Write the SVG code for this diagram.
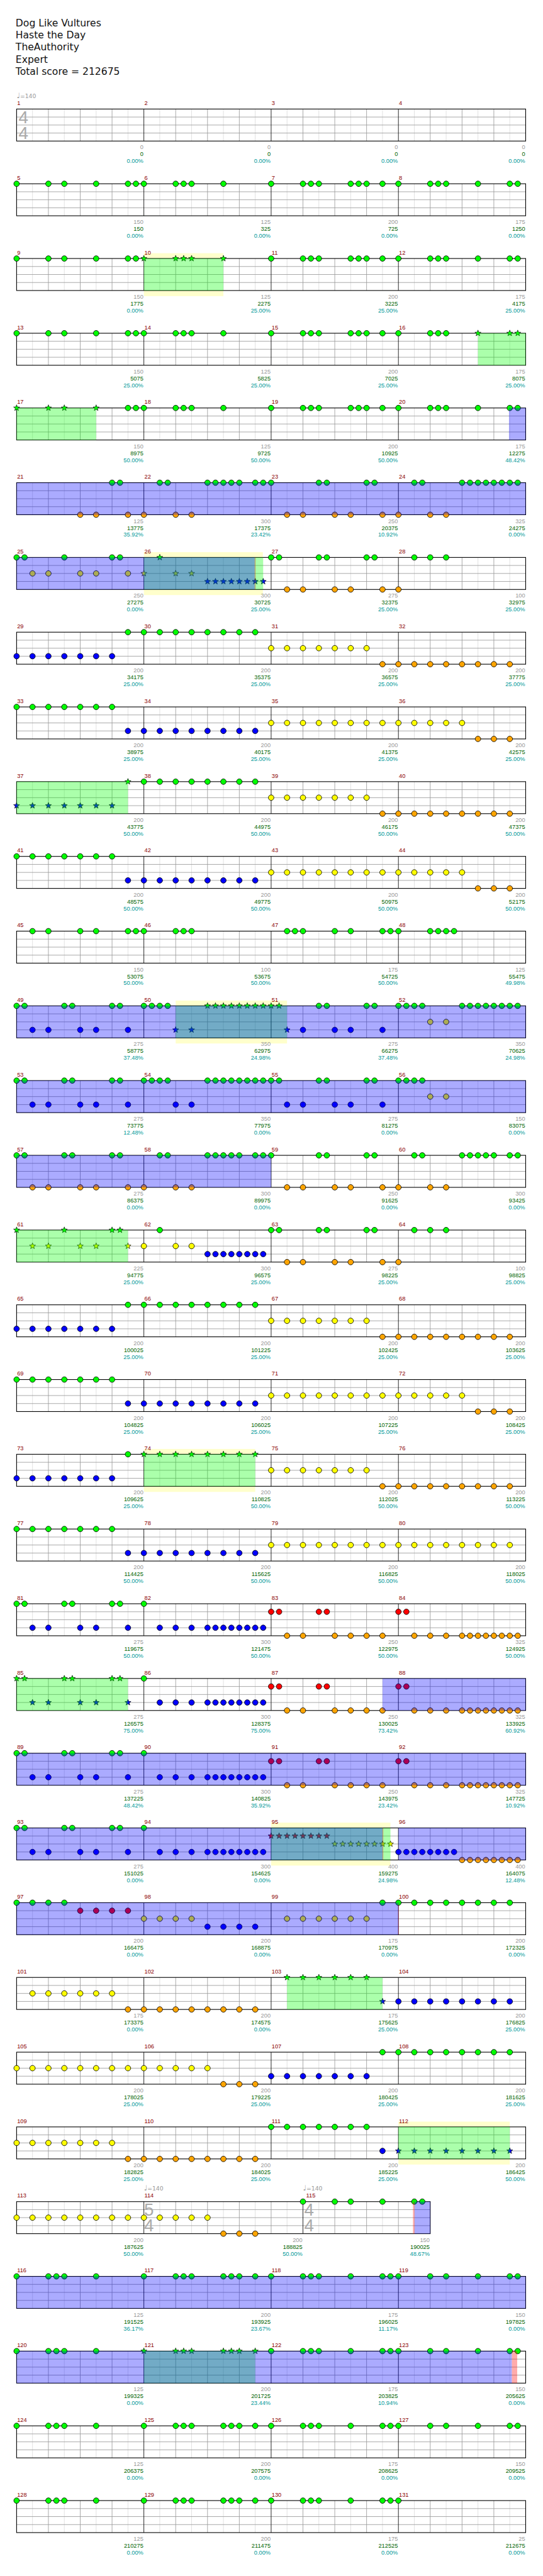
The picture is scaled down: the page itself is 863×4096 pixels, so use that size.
<svg xmlns="http://www.w3.org/2000/svg" width="863" height="4096" viewBox="0 0 863 4096">
<style>
.t{font-family:"DejaVu Sans",sans-serif;font-size:18.5px;fill:#111}
.mn{font-family:"Liberation Sans",Arial,sans-serif;font-size:11px;fill:#8b0000}
.n{font-family:"Liberation Sans",Arial,sans-serif;font-size:11px;text-anchor:end}
.a{fill:#999}.b{fill:#006400}.c{fill:#009999}
.ts{font-family:"Liberation Sans",Arial,sans-serif;font-size:33px;fill:#aaa}
.tp{font-family:"DejaVu Sans",sans-serif;font-size:11px;fill:#999}
.bl{fill:#00f;fill-opacity:.33}.gr{fill:#0f0;fill-opacity:.33}.pk{fill:#f00;fill-opacity:.33}.ye{fill:#ffffcc}
.nt{stroke:#000;stroke-width:1}
</style>
<defs>
<circle id="G" r="5.2" fill="#00ff00" class="nt"/>
<circle id="R" cy="15.1" r="5.2" fill="#ff0000" class="nt"/>
<circle id="Y" cy="30.2" r="5.2" fill="#ffff00" class="nt"/>
<circle id="B" cy="45.3" r="5.2" fill="#0000ff" class="nt"/>
<circle id="O" cy="60.4" r="5.2" fill="#ffa500" class="nt"/>
<polygon id="st" points="0,-6 1.47,-2.02 5.71,-1.85 2.38,0.77 3.53,4.85 0,2.5 -3.53,4.85 -2.38,0.77 -5.71,-1.85 -1.47,-2.02" stroke="#000" stroke-width="0.8"/>
<use id="sG" href="#st" fill="#00ff00"/>
<use id="sR" href="#st" y="15.1" fill="#ff0000"/>
<use id="sY" href="#st" y="30.2" fill="#ffff00"/>
<use id="sB" href="#st" y="45.3" fill="#0000ff"/>
<g id="st4">
<rect width="960" height="60.4" fill="#fff"/>
<path d="M30 0V60.4M90 0V60.4M150 0V60.4M210 0V60.4M270 0V60.4M330 0V60.4M390 0V60.4M450 0V60.4M510 0V60.4M570 0V60.4M630 0V60.4M690 0V60.4M750 0V60.4M810 0V60.4M870 0V60.4M930 0V60.4" stroke="#ddd" fill="none"/>
<path d="M60 0V60.4M120 0V60.4M180 0V60.4M300 0V60.4M360 0V60.4M420 0V60.4M540 0V60.4M600 0V60.4M660 0V60.4M780 0V60.4M840 0V60.4M900 0V60.4M0 15.1H960M0 30.2H960M0 45.3H960" stroke="#999" fill="none"/>
<path d="M240 0V60.4M480 0V60.4M720 0V60.4" stroke="#000" fill="none"/>
<rect width="960" height="60.4" fill="none" stroke="#000" stroke-width="1.3"/>
</g>
<g id="P8">
<use href="#B" x="0"/><use href="#B" x="30"/><use href="#B" x="60"/><use href="#B" x="90"/><use href="#B" x="120"/><use href="#B" x="150"/><use href="#B" x="180"/>
<use href="#G" x="210"/><use href="#G" x="240"/><use href="#G" x="270"/><use href="#G" x="300"/><use href="#G" x="330"/><use href="#G" x="360"/><use href="#G" x="390"/><use href="#G" x="420"/><use href="#G" x="450"/>
<use href="#Y" x="480"/><use href="#Y" x="510"/><use href="#Y" x="540"/><use href="#Y" x="570"/><use href="#Y" x="600"/><use href="#Y" x="630"/><use href="#Y" x="660"/>
<use href="#O" x="690"/><use href="#O" x="720"/><use href="#O" x="750"/><use href="#O" x="780"/><use href="#O" x="810"/><use href="#O" x="840"/><use href="#O" x="870"/><use href="#O" x="900"/><use href="#O" x="930"/>
</g>
<g id="P9">
<use href="#G" x="0"/><use href="#G" x="30"/><use href="#G" x="60"/><use href="#G" x="90"/><use href="#G" x="120"/><use href="#G" x="150"/><use href="#G" x="180"/>
<use href="#B" x="210"/><use href="#B" x="240"/><use href="#B" x="270"/><use href="#B" x="300"/><use href="#B" x="330"/><use href="#B" x="360"/><use href="#B" x="390"/><use href="#B" x="420"/><use href="#B" x="450"/>
<use href="#Y" x="480"/><use href="#Y" x="510"/><use href="#Y" x="540"/><use href="#Y" x="570"/><use href="#Y" x="600"/><use href="#Y" x="630"/><use href="#Y" x="660"/><use href="#Y" x="690"/><use href="#Y" x="720"/><use href="#Y" x="750"/><use href="#Y" x="780"/><use href="#Y" x="810"/><use href="#Y" x="840"/>
<use href="#O" x="870"/><use href="#O" x="900"/><use href="#O" x="930"/>
</g>
<g id="P21b">
<use href="#R" x="480"/><use href="#R" x="495"/><use href="#R" x="570"/><use href="#R" x="585"/><use href="#R" x="720"/><use href="#R" x="735"/>
<use href="#O" x="510"/><use href="#O" x="540"/><use href="#O" x="600"/><use href="#O" x="630"/><use href="#O" x="660"/><use href="#O" x="690"/><use href="#O" x="750"/><use href="#O" x="780"/><use href="#O" x="810"/><use href="#O" x="840"/><use href="#O" x="855"/><use href="#O" x="870"/><use href="#O" x="885"/><use href="#O" x="900"/><use href="#O" x="915"/><use href="#O" x="930"/><use href="#O" x="945"/>
</g>
<g id="P21a">
<use href="#G" x="0"/><use href="#G" x="15"/><use href="#G" x="90"/><use href="#G" x="105"/><use href="#G" x="180"/><use href="#G" x="195"/><use href="#G" x="240"/>
<use href="#B" x="30"/><use href="#B" x="60"/><use href="#B" x="120"/><use href="#B" x="150"/><use href="#B" x="210"/><use href="#B" x="270"/><use href="#B" x="300"/><use href="#B" x="330"/><use href="#B" x="360"/><use href="#B" x="375"/><use href="#B" x="390"/><use href="#B" x="405"/><use href="#B" x="420"/><use href="#B" x="435"/><use href="#B" x="450"/><use href="#B" x="465"/>
</g>
<g id="P30a">
<use href="#G" x="0"/><use href="#G" x="60"/><use href="#G" x="75"/><use href="#G" x="90"/><use href="#G" x="150"/>
</g>
<g id="P30c">
<use href="#G" x="480"/><use href="#G" x="540"/><use href="#G" x="555"/><use href="#G" x="570"/><use href="#G" x="630"/><use href="#G" x="690"/><use href="#G" x="705"/><use href="#G" x="720"/>
</g>
<g id="P30d">
<use href="#G" x="780"/><use href="#G" x="810"/><use href="#G" x="870"/><use href="#G" x="930"/><use href="#G" x="945"/>
</g>
<g id="P30b">
<use href="#G" x="240"/><use href="#G" x="300"/><use href="#G" x="315"/><use href="#G" x="330"/><use href="#G" x="390"/><use href="#G" x="405"/><use href="#G" x="420"/><use href="#G" x="450"/>
</g>
<g id="M68">
<use href="#G" x="480"/><use href="#G" x="540"/><use href="#G" x="555"/><use href="#G" x="570"/><use href="#G" x="630"/><use href="#G" x="645"/><use href="#G" x="660"/><use href="#G" x="690"/><use href="#G" x="720"/><use href="#G" x="780"/><use href="#G" x="795"/><use href="#G" x="810"/>
</g>
</defs>
<rect width="863" height="4096" fill="#fff"/>
<g transform="scale(0.8428)">
<g id="header">
<text class="t" x="29.5" y="49.5">Dog Like Vultures</text>
<text class="t" x="29.5" y="72.5">Haste the Day</text>
<text class="t" x="29.5" y="95.5">TheAuthority</text>
<text class="t" x="29.5" y="118.5">Expert</text>
<text class="t" x="29.5" y="141">Total score = 212675</text>
</g>

<g id="row1" transform="translate(31.3 205.7)">
<use href="#st4"/>
<text class="ts" x="3.8" y="26.6">4</text><text class="ts" x="3.8" y="56.6">4</text>
<text class="tp" x="0" y="-20.5"><tspan font-size="14">♩</tspan>=140</text>
<text class="mn" y="-7.5"><tspan x="1">1</tspan><tspan x="241">2</tspan><tspan x="481">3</tspan><tspan x="721">4</tspan></text>
<text class="n a" y="76"><tspan x="239">0</tspan><tspan x="479">0</tspan><tspan x="719">0</tspan><tspan x="959">0</tspan></text>
<text class="n b" y="89"><tspan x="239">0</tspan><tspan x="479">0</tspan><tspan x="719">0</tspan><tspan x="959">0</tspan></text>
<text class="n c" y="102"><tspan x="239">0.00%</tspan><tspan x="479">0.00%</tspan><tspan x="719">0.00%</tspan><tspan x="959">0.00%</tspan></text>
</g>

<g id="row2" transform="translate(31.3 346.7)">
<use href="#st4"/>
<use href="#G" x="0"/><use href="#G" x="60"/><use href="#G" x="90"/><use href="#G" x="150"/><use href="#G" x="210"/><use href="#G" x="225"/><use href="#G" x="240"/><use href="#G" x="300"/><use href="#G" x="315"/><use href="#G" x="330"/><use href="#G" x="390"/>
<use href="#M68"/><use href="#G" x="870"/><use href="#G" x="930"/><use href="#G" x="945"/>
<text class="mn" y="-7.5"><tspan x="1">5</tspan><tspan x="241">6</tspan><tspan x="481">7</tspan><tspan x="721">8</tspan></text>
<text class="n a" y="76"><tspan x="239">150</tspan><tspan x="479">125</tspan><tspan x="719">200</tspan><tspan x="959">175</tspan></text>
<text class="n b" y="89"><tspan x="239">150</tspan><tspan x="479">325</tspan><tspan x="719">725</tspan><tspan x="959">1250</tspan></text>
<text class="n c" y="102"><tspan x="239">0.00%</tspan><tspan x="479">0.00%</tspan><tspan x="719">0.00%</tspan><tspan x="959">0.00%</tspan></text>
</g>

<g id="row3" transform="translate(31.3 487.7)">
<rect class="ye" x="240" y="-10" width="150" height="81"/>
<use href="#st4"/>
<use href="#G" x="0"/><use href="#G" x="60"/><use href="#G" x="90"/><use href="#G" x="150"/><use href="#G" x="210"/><use href="#G" x="225"/>
<use href="#sG" x="240"/><use href="#sG" x="300"/><use href="#sG" x="315"/><use href="#sG" x="330"/><use href="#sG" x="390"/>
<use href="#M68"/><use href="#G" x="870"/><use href="#G" x="930"/><use href="#G" x="945"/>
<rect class="gr" x="240" width="150" height="60.4"/>
<text class="mn" y="-7.5"><tspan x="1">9</tspan><tspan x="241">10</tspan><tspan x="481">11</tspan><tspan x="721">12</tspan></text>
<text class="n a" y="76"><tspan x="239">150</tspan><tspan x="479">125</tspan><tspan x="719">200</tspan><tspan x="959">175</tspan></text>
<text class="n b" y="89"><tspan x="239">1775</tspan><tspan x="479">2275</tspan><tspan x="719">3225</tspan><tspan x="959">4175</tspan></text>
<text class="n c" y="102"><tspan x="239">0.00%</tspan><tspan x="479">25.00%</tspan><tspan x="719">25.00%</tspan><tspan x="959">25.00%</tspan></text>
</g>

<g id="row4" transform="translate(31.3 628.7)">
<use href="#st4"/>
<use href="#G" x="0"/><use href="#G" x="60"/><use href="#G" x="90"/><use href="#G" x="150"/><use href="#G" x="210"/><use href="#G" x="225"/><use href="#G" x="240"/><use href="#G" x="300"/><use href="#G" x="315"/><use href="#G" x="330"/><use href="#G" x="390"/>
<use href="#M68"/><use href="#sG" x="870"/><use href="#sG" x="930"/><use href="#sG" x="945"/>
<rect class="gr" x="870" width="90" height="60.4"/>
<text class="mn" y="-7.5"><tspan x="1">13</tspan><tspan x="241">14</tspan><tspan x="481">15</tspan><tspan x="721">16</tspan></text>
<text class="n a" y="76"><tspan x="239">150</tspan><tspan x="479">125</tspan><tspan x="719">200</tspan><tspan x="959">175</tspan></text>
<text class="n b" y="89"><tspan x="239">5075</tspan><tspan x="479">5825</tspan><tspan x="719">7025</tspan><tspan x="959">8075</tspan></text>
<text class="n c" y="102"><tspan x="239">25.00%</tspan><tspan x="479">25.00%</tspan><tspan x="719">25.00%</tspan><tspan x="959">25.00%</tspan></text>
</g>

<g id="row5" transform="translate(31.3 769.7)">
<use href="#st4"/>
<use href="#sG" x="0"/><use href="#sG" x="60"/><use href="#sG" x="90"/><use href="#sG" x="150"/>
<use href="#G" x="210"/><use href="#G" x="225"/><use href="#G" x="240"/><use href="#G" x="300"/><use href="#G" x="315"/><use href="#G" x="330"/><use href="#G" x="390"/>
<use href="#M68"/><use href="#G" x="870"/><use href="#G" x="930"/><use href="#G" x="945"/>
<rect class="gr" x="0" width="150" height="60.4"/>
<rect class="bl" x="928.5" width="31.5" height="60.4"/>
<text class="mn" y="-7.5"><tspan x="1">17</tspan><tspan x="241">18</tspan><tspan x="481">19</tspan><tspan x="721">20</tspan></text>
<text class="n a" y="76"><tspan x="239">150</tspan><tspan x="479">125</tspan><tspan x="719">200</tspan><tspan x="959">175</tspan></text>
<text class="n b" y="89"><tspan x="239">8975</tspan><tspan x="479">9725</tspan><tspan x="719">10925</tspan><tspan x="959">12275</tspan></text>
<text class="n c" y="102"><tspan x="239">50.00%</tspan><tspan x="479">50.00%</tspan><tspan x="719">50.00%</tspan><tspan x="959">48.42%</tspan></text>
</g>

<g id="row6" transform="translate(31.3 910.7)">
<use href="#st4"/>
<use href="#G" x="180"/><use href="#G" x="195"/><use href="#G" x="270"/><use href="#G" x="285"/><use href="#G" x="360"/><use href="#G" x="375"/><use href="#G" x="390"/><use href="#G" x="405"/><use href="#G" x="420"/><use href="#G" x="450"/><use href="#G" x="465"/><use href="#G" x="480"/><use href="#G" x="570"/><use href="#G" x="585"/><use href="#G" x="660"/><use href="#G" x="675"/><use href="#G" x="750"/><use href="#G" x="765"/><use href="#G" x="840"/><use href="#G" x="855"/><use href="#G" x="870"/><use href="#G" x="885"/><use href="#G" x="900"/><use href="#G" x="915"/><use href="#G" x="930"/><use href="#G" x="945"/>
<use href="#O" x="120"/><use href="#O" x="150"/><use href="#O" x="210"/><use href="#O" x="240"/><use href="#O" x="300"/><use href="#O" x="330"/><use href="#O" x="510"/><use href="#O" x="540"/><use href="#O" x="600"/><use href="#O" x="630"/><use href="#O" x="690"/><use href="#O" x="720"/><use href="#O" x="780"/><use href="#O" x="810"/>
<rect class="bl" width="960" height="60.4"/>
<text class="mn" y="-7.5"><tspan x="1">21</tspan><tspan x="241">22</tspan><tspan x="481">23</tspan><tspan x="721">24</tspan></text>
<text class="n a" y="76"><tspan x="239">125</tspan><tspan x="479">300</tspan><tspan x="719">250</tspan><tspan x="959">325</tspan></text>
<text class="n b" y="89"><tspan x="239">13775</tspan><tspan x="479">17375</tspan><tspan x="719">20375</tspan><tspan x="959">24275</tspan></text>
<text class="n c" y="102"><tspan x="239">35.92%</tspan><tspan x="479">23.42%</tspan><tspan x="719">10.92%</tspan><tspan x="959">0.00%</tspan></text>
</g>

<g id="row7" transform="translate(31.3 1051.7)">
<rect class="ye" x="240" y="-10" width="224.4" height="81"/>
<use href="#st4"/>
<use href="#G" x="0"/><use href="#G" x="15"/><use href="#G" x="90"/><use href="#G" x="180"/><use href="#G" x="195"/>
<use href="#Y" x="30"/><use href="#Y" x="60"/><use href="#Y" x="120"/><use href="#Y" x="150"/><use href="#Y" x="210"/>
<use href="#sY" x="240"/><use href="#sG" x="270"/><use href="#sY" x="300"/><use href="#sY" x="330"/>
<use href="#sB" x="360"/><use href="#sB" x="375"/><use href="#sB" x="390"/><use href="#sB" x="405"/><use href="#sB" x="420"/><use href="#sB" x="435"/><use href="#sB" x="450"/><use href="#sB" x="465"/>
<use href="#G" x="480"/><use href="#G" x="495"/><use href="#G" x="570"/><use href="#G" x="585"/><use href="#G" x="660"/><use href="#G" x="675"/><use href="#G" x="750"/><use href="#G" x="780"/><use href="#G" x="810"/>
<use href="#O" x="510"/><use href="#O" x="540"/><use href="#O" x="600"/><use href="#O" x="630"/><use href="#O" x="690"/><use href="#O" x="720"/>
<rect class="gr" x="240" width="225" height="60.4"/>
<rect class="bl" width="449" height="60.4"/>
<rect class="pk" x="449" width="1.5" height="60.4"/>
<text class="mn" y="-7.5"><tspan x="1">25</tspan><tspan x="241">26</tspan><tspan x="481">27</tspan><tspan x="721">28</tspan></text>
<text class="n a" y="76"><tspan x="239">250</tspan><tspan x="479">300</tspan><tspan x="719">275</tspan><tspan x="959">100</tspan></text>
<text class="n b" y="89"><tspan x="239">27275</tspan><tspan x="479">30725</tspan><tspan x="719">32375</tspan><tspan x="959">32975</tspan></text>
<text class="n c" y="102"><tspan x="239">0.00%</tspan><tspan x="479">25.00%</tspan><tspan x="719">25.00%</tspan><tspan x="959">25.00%</tspan></text>
</g>

<g id="row8" transform="translate(31.3 1192.7)">
<use href="#st4"/><use href="#P8"/>
<text class="mn" y="-7.5"><tspan x="1">29</tspan><tspan x="241">30</tspan><tspan x="481">31</tspan><tspan x="721">32</tspan></text>
<text class="n a" y="76"><tspan x="239">200</tspan><tspan x="479">200</tspan><tspan x="719">200</tspan><tspan x="959">200</tspan></text>
<text class="n b" y="89"><tspan x="239">34175</tspan><tspan x="479">35375</tspan><tspan x="719">36575</tspan><tspan x="959">37775</tspan></text>
<text class="n c" y="102"><tspan x="239">25.00%</tspan><tspan x="479">25.00%</tspan><tspan x="719">25.00%</tspan><tspan x="959">25.00%</tspan></text>
</g>

<g id="row9" transform="translate(31.3 1333.7)">
<use href="#st4"/><use href="#P9"/>
<text class="mn" y="-7.5"><tspan x="1">33</tspan><tspan x="241">34</tspan><tspan x="481">35</tspan><tspan x="721">36</tspan></text>
<text class="n a" y="76"><tspan x="239">200</tspan><tspan x="479">200</tspan><tspan x="719">200</tspan><tspan x="959">200</tspan></text>
<text class="n b" y="89"><tspan x="239">38975</tspan><tspan x="479">40175</tspan><tspan x="719">41375</tspan><tspan x="959">42575</tspan></text>
<text class="n c" y="102"><tspan x="239">25.00%</tspan><tspan x="479">25.00%</tspan><tspan x="719">25.00%</tspan><tspan x="959">25.00%</tspan></text>
</g>

<g id="row10" transform="translate(31.3 1474.7)">
<use href="#st4"/>
<use href="#sB" x="0"/><use href="#sB" x="30"/><use href="#sB" x="60"/><use href="#sB" x="90"/><use href="#sB" x="120"/><use href="#sB" x="150"/><use href="#sB" x="180"/><use href="#sG" x="210"/>
<use href="#G" x="240"/><use href="#G" x="270"/><use href="#G" x="300"/><use href="#G" x="330"/><use href="#G" x="360"/><use href="#G" x="390"/><use href="#G" x="420"/><use href="#G" x="450"/>
<use href="#Y" x="480"/><use href="#Y" x="510"/><use href="#Y" x="540"/><use href="#Y" x="570"/><use href="#Y" x="600"/><use href="#Y" x="630"/><use href="#Y" x="660"/>
<use href="#O" x="690"/><use href="#O" x="720"/><use href="#O" x="750"/><use href="#O" x="780"/><use href="#O" x="810"/><use href="#O" x="840"/><use href="#O" x="870"/><use href="#O" x="900"/><use href="#O" x="930"/>
<rect class="gr" width="210" height="60.4"/>
<text class="mn" y="-7.5"><tspan x="1">37</tspan><tspan x="241">38</tspan><tspan x="481">39</tspan><tspan x="721">40</tspan></text>
<text class="n a" y="76"><tspan x="239">200</tspan><tspan x="479">200</tspan><tspan x="719">200</tspan><tspan x="959">200</tspan></text>
<text class="n b" y="89"><tspan x="239">43775</tspan><tspan x="479">44975</tspan><tspan x="719">46175</tspan><tspan x="959">47375</tspan></text>
<text class="n c" y="102"><tspan x="239">50.00%</tspan><tspan x="479">50.00%</tspan><tspan x="719">50.00%</tspan><tspan x="959">50.00%</tspan></text>
</g>

<g id="row11" transform="translate(31.3 1615.7)">
<use href="#st4"/><use href="#P9"/>
<text class="mn" y="-7.5"><tspan x="1">41</tspan><tspan x="241">42</tspan><tspan x="481">43</tspan><tspan x="721">44</tspan></text>
<text class="n a" y="76"><tspan x="239">200</tspan><tspan x="479">200</tspan><tspan x="719">200</tspan><tspan x="959">200</tspan></text>
<text class="n b" y="89"><tspan x="239">48575</tspan><tspan x="479">49775</tspan><tspan x="719">50975</tspan><tspan x="959">52175</tspan></text>
<text class="n c" y="102"><tspan x="239">50.00%</tspan><tspan x="479">50.00%</tspan><tspan x="719">50.00%</tspan><tspan x="959">50.00%</tspan></text>
</g>

<g id="row12" transform="translate(31.3 1756.7)">
<use href="#st4"/>
<use href="#G" x="30"/><use href="#G" x="60"/><use href="#G" x="120"/><use href="#G" x="150"/><use href="#G" x="210"/><use href="#G" x="225"/><use href="#G" x="240"/><use href="#G" x="300"/><use href="#G" x="315"/><use href="#G" x="330"/><use href="#G" x="510"/><use href="#G" x="525"/><use href="#G" x="540"/><use href="#G" x="600"/><use href="#G" x="630"/><use href="#G" x="690"/><use href="#G" x="705"/><use href="#G" x="720"/><use href="#G" x="780"/><use href="#G" x="795"/><use href="#G" x="810"/><use href="#G" x="825"/>
<text class="mn" y="-7.5"><tspan x="1">45</tspan><tspan x="241">46</tspan><tspan x="481">47</tspan><tspan x="721">48</tspan></text>
<text class="n a" y="76"><tspan x="239">150</tspan><tspan x="479">100</tspan><tspan x="719">175</tspan><tspan x="959">125</tspan></text>
<text class="n b" y="89"><tspan x="239">53075</tspan><tspan x="479">53675</tspan><tspan x="719">54725</tspan><tspan x="959">55475</tspan></text>
<text class="n c" y="102"><tspan x="239">50.00%</tspan><tspan x="479">50.00%</tspan><tspan x="719">50.00%</tspan><tspan x="959">49.98%</tspan></text>
</g>

<g id="row13" transform="translate(31.3 1897.7)">
<rect class="ye" x="300" y="-10" width="210" height="81"/>
<use href="#st4"/>
<use href="#G" x="0"/><use href="#G" x="15"/><use href="#G" x="90"/><use href="#G" x="105"/><use href="#G" x="180"/><use href="#G" x="195"/><use href="#G" x="240"/><use href="#G" x="255"/><use href="#G" x="270"/><use href="#G" x="285"/>
<use href="#sG" x="360"/><use href="#sG" x="375"/><use href="#sG" x="390"/><use href="#sG" x="405"/><use href="#sG" x="420"/><use href="#sG" x="435"/><use href="#sG" x="450"/><use href="#sG" x="465"/><use href="#sG" x="480"/><use href="#sG" x="495"/>
<use href="#G" x="570"/><use href="#G" x="585"/><use href="#G" x="660"/><use href="#G" x="675"/><use href="#G" x="720"/><use href="#G" x="735"/><use href="#G" x="750"/><use href="#G" x="765"/><use href="#G" x="840"/><use href="#G" x="855"/><use href="#G" x="870"/><use href="#G" x="885"/><use href="#G" x="900"/><use href="#G" x="915"/><use href="#G" x="930"/><use href="#G" x="945"/>
<use href="#B" x="30"/><use href="#B" x="60"/><use href="#B" x="120"/><use href="#B" x="150"/><use href="#B" x="210"/><use href="#sB" x="300"/><use href="#sB" x="330"/><use href="#sB" x="510"/><use href="#B" x="540"/><use href="#B" x="600"/><use href="#B" x="630"/><use href="#B" x="690"/>
<use href="#Y" x="780"/><use href="#Y" x="810"/>
<rect class="gr" x="300" width="210" height="60.4"/>
<rect class="bl" width="960" height="60.4"/>
<text class="mn" y="-7.5"><tspan x="1">49</tspan><tspan x="241">50</tspan><tspan x="481">51</tspan><tspan x="721">52</tspan></text>
<text class="n a" y="76"><tspan x="239">275</tspan><tspan x="479">350</tspan><tspan x="719">275</tspan><tspan x="959">350</tspan></text>
<text class="n b" y="89"><tspan x="239">58775</tspan><tspan x="479">62975</tspan><tspan x="719">66275</tspan><tspan x="959">70625</tspan></text>
<text class="n c" y="102"><tspan x="239">37.48%</tspan><tspan x="479">24.98%</tspan><tspan x="719">37.48%</tspan><tspan x="959">24.98%</tspan></text>
</g>

<g id="row14" transform="translate(31.3 2038.7)">
<use href="#st4"/>
<use href="#G" x="0"/><use href="#G" x="15"/><use href="#G" x="90"/><use href="#G" x="105"/><use href="#G" x="180"/><use href="#G" x="195"/><use href="#G" x="240"/><use href="#G" x="255"/><use href="#G" x="270"/><use href="#G" x="285"/><use href="#G" x="360"/><use href="#G" x="375"/><use href="#G" x="390"/><use href="#G" x="405"/><use href="#G" x="420"/><use href="#G" x="435"/><use href="#G" x="450"/><use href="#G" x="465"/><use href="#G" x="480"/><use href="#G" x="495"/><use href="#G" x="570"/><use href="#G" x="585"/><use href="#G" x="660"/><use href="#G" x="675"/><use href="#G" x="720"/><use href="#G" x="735"/><use href="#G" x="750"/><use href="#G" x="765"/>
<use href="#B" x="30"/><use href="#B" x="60"/><use href="#B" x="120"/><use href="#B" x="150"/><use href="#B" x="210"/><use href="#B" x="300"/><use href="#B" x="330"/><use href="#B" x="510"/><use href="#B" x="540"/><use href="#B" x="600"/><use href="#B" x="630"/><use href="#B" x="690"/>
<use href="#Y" x="780"/><use href="#Y" x="810"/>
<rect class="bl" width="960" height="60.4"/>
<text class="mn" y="-7.5"><tspan x="1">53</tspan><tspan x="241">54</tspan><tspan x="481">55</tspan><tspan x="721">56</tspan></text>
<text class="n a" y="76"><tspan x="239">275</tspan><tspan x="479">350</tspan><tspan x="719">275</tspan><tspan x="959">150</tspan></text>
<text class="n b" y="89"><tspan x="239">73775</tspan><tspan x="479">77975</tspan><tspan x="719">81275</tspan><tspan x="959">83075</tspan></text>
<text class="n c" y="102"><tspan x="239">12.48%</tspan><tspan x="479">0.00%</tspan><tspan x="719">0.00%</tspan><tspan x="959">0.00%</tspan></text>
</g>

<g id="row15" transform="translate(31.3 2179.7)">
<use href="#st4"/>
<use href="#G" x="0"/><use href="#G" x="15"/><use href="#G" x="90"/><use href="#G" x="105"/><use href="#G" x="180"/><use href="#G" x="195"/><use href="#G" x="270"/><use href="#G" x="285"/><use href="#G" x="360"/><use href="#G" x="375"/><use href="#G" x="390"/><use href="#G" x="405"/><use href="#G" x="420"/><use href="#G" x="450"/><use href="#G" x="465"/><use href="#G" x="480"/><use href="#G" x="570"/><use href="#G" x="585"/><use href="#G" x="660"/><use href="#G" x="675"/><use href="#G" x="750"/><use href="#G" x="765"/><use href="#G" x="840"/><use href="#G" x="855"/><use href="#G" x="870"/><use href="#G" x="885"/><use href="#G" x="900"/><use href="#G" x="930"/><use href="#G" x="945"/>
<use href="#O" x="30"/><use href="#O" x="60"/><use href="#O" x="120"/><use href="#O" x="150"/><use href="#O" x="210"/><use href="#O" x="240"/><use href="#O" x="300"/><use href="#O" x="330"/><use href="#O" x="510"/><use href="#O" x="540"/><use href="#O" x="600"/><use href="#O" x="630"/><use href="#O" x="690"/><use href="#O" x="720"/><use href="#O" x="780"/><use href="#O" x="810"/>
<rect class="bl" width="480" height="60.4"/>
<text class="mn" y="-7.5"><tspan x="1">57</tspan><tspan x="241">58</tspan><tspan x="481">59</tspan><tspan x="721">60</tspan></text>
<text class="n a" y="76"><tspan x="239">275</tspan><tspan x="479">300</tspan><tspan x="719">250</tspan><tspan x="959">300</tspan></text>
<text class="n b" y="89"><tspan x="239">86375</tspan><tspan x="479">89975</tspan><tspan x="719">91625</tspan><tspan x="959">93425</tspan></text>
<text class="n c" y="102"><tspan x="239">0.00%</tspan><tspan x="479">0.00%</tspan><tspan x="719">0.00%</tspan><tspan x="959">0.00%</tspan></text>
</g>

<g id="row16" transform="translate(31.3 2320.7)">
<use href="#st4"/>
<use href="#sG" x="0"/><use href="#sG" x="90"/><use href="#sG" x="180"/><use href="#sG" x="195"/>
<use href="#sY" x="30"/><use href="#sY" x="60"/><use href="#sY" x="120"/><use href="#sY" x="150"/><use href="#sY" x="210"/>
<use href="#G" x="270"/><use href="#Y" x="240"/><use href="#Y" x="300"/><use href="#Y" x="330"/>
<use href="#B" x="360"/><use href="#B" x="375"/><use href="#B" x="390"/><use href="#B" x="405"/><use href="#B" x="420"/><use href="#B" x="435"/><use href="#B" x="450"/><use href="#B" x="465"/>
<use href="#G" x="480"/><use href="#G" x="495"/><use href="#G" x="570"/><use href="#G" x="585"/><use href="#G" x="660"/><use href="#G" x="675"/><use href="#G" x="750"/><use href="#G" x="780"/><use href="#G" x="810"/>
<use href="#O" x="510"/><use href="#O" x="540"/><use href="#O" x="600"/><use href="#O" x="630"/><use href="#O" x="690"/><use href="#O" x="720"/>
<rect class="gr" width="210" height="60.4"/>
<text class="mn" y="-7.5"><tspan x="1">61</tspan><tspan x="241">62</tspan><tspan x="481">63</tspan><tspan x="721">64</tspan></text>
<text class="n a" y="76"><tspan x="239">225</tspan><tspan x="479">300</tspan><tspan x="719">275</tspan><tspan x="959">100</tspan></text>
<text class="n b" y="89"><tspan x="239">94775</tspan><tspan x="479">96575</tspan><tspan x="719">98225</tspan><tspan x="959">98825</tspan></text>
<text class="n c" y="102"><tspan x="239">25.00%</tspan><tspan x="479">25.00%</tspan><tspan x="719">25.00%</tspan><tspan x="959">25.00%</tspan></text>
</g>

<g id="row17" transform="translate(31.3 2461.7)">
<use href="#st4"/><use href="#P8"/>
<text class="mn" y="-7.5"><tspan x="1">65</tspan><tspan x="241">66</tspan><tspan x="481">67</tspan><tspan x="721">68</tspan></text>
<text class="n a" y="76"><tspan x="239">200</tspan><tspan x="479">200</tspan><tspan x="719">200</tspan><tspan x="959">200</tspan></text>
<text class="n b" y="89"><tspan x="239">100025</tspan><tspan x="479">101225</tspan><tspan x="719">102425</tspan><tspan x="959">103625</tspan></text>
<text class="n c" y="102"><tspan x="239">25.00%</tspan><tspan x="479">25.00%</tspan><tspan x="719">25.00%</tspan><tspan x="959">25.00%</tspan></text>
</g>

<g id="row18" transform="translate(31.3 2602.7)">
<use href="#st4"/><use href="#P9"/>
<text class="mn" y="-7.5"><tspan x="1">69</tspan><tspan x="241">70</tspan><tspan x="481">71</tspan><tspan x="721">72</tspan></text>
<text class="n a" y="76"><tspan x="239">200</tspan><tspan x="479">200</tspan><tspan x="719">200</tspan><tspan x="959">200</tspan></text>
<text class="n b" y="89"><tspan x="239">104825</tspan><tspan x="479">106025</tspan><tspan x="719">107225</tspan><tspan x="959">108425</tspan></text>
<text class="n c" y="102"><tspan x="239">25.00%</tspan><tspan x="479">25.00%</tspan><tspan x="719">25.00%</tspan><tspan x="959">25.00%</tspan></text>
</g>

<g id="row19" transform="translate(31.3 2743.7)">
<rect class="ye" x="240" y="-10" width="210" height="81"/>
<use href="#st4"/>
<use href="#B" x="0"/><use href="#B" x="30"/><use href="#B" x="60"/><use href="#B" x="90"/><use href="#B" x="120"/><use href="#B" x="150"/><use href="#B" x="180"/><use href="#G" x="210"/>
<use href="#sG" x="240"/><use href="#sG" x="270"/><use href="#sG" x="300"/><use href="#sG" x="330"/><use href="#sG" x="360"/><use href="#sG" x="390"/><use href="#sG" x="420"/><use href="#sG" x="450"/>
<use href="#Y" x="480"/><use href="#Y" x="510"/><use href="#Y" x="540"/><use href="#Y" x="570"/><use href="#Y" x="600"/><use href="#Y" x="630"/><use href="#Y" x="660"/>
<use href="#O" x="690"/><use href="#O" x="720"/><use href="#O" x="750"/><use href="#O" x="780"/><use href="#O" x="810"/><use href="#O" x="840"/><use href="#O" x="870"/><use href="#O" x="900"/><use href="#O" x="930"/>
<rect class="gr" x="240" width="210" height="60.4"/>
<text class="mn" y="-7.5"><tspan x="1">73</tspan><tspan x="241">74</tspan><tspan x="481">75</tspan><tspan x="721">76</tspan></text>
<text class="n a" y="76"><tspan x="239">200</tspan><tspan x="479">200</tspan><tspan x="719">200</tspan><tspan x="959">200</tspan></text>
<text class="n b" y="89"><tspan x="239">109625</tspan><tspan x="479">110825</tspan><tspan x="719">112025</tspan><tspan x="959">113225</tspan></text>
<text class="n c" y="102"><tspan x="239">25.00%</tspan><tspan x="479">50.00%</tspan><tspan x="719">50.00%</tspan><tspan x="959">50.00%</tspan></text>
</g>

<g id="row20" transform="translate(31.3 2884.7)">
<use href="#st4"/>
<use href="#G" x="0"/><use href="#G" x="30"/><use href="#G" x="60"/><use href="#G" x="90"/><use href="#G" x="120"/><use href="#G" x="150"/><use href="#G" x="180"/>
<use href="#B" x="210"/><use href="#B" x="240"/><use href="#B" x="270"/><use href="#B" x="300"/><use href="#B" x="330"/><use href="#B" x="360"/><use href="#B" x="390"/><use href="#B" x="420"/><use href="#B" x="450"/>
<use href="#Y" x="480"/><use href="#Y" x="510"/><use href="#Y" x="540"/><use href="#Y" x="570"/><use href="#Y" x="600"/><use href="#Y" x="630"/><use href="#Y" x="660"/><use href="#Y" x="690"/><use href="#Y" x="720"/><use href="#Y" x="750"/><use href="#Y" x="780"/><use href="#Y" x="810"/><use href="#Y" x="840"/><use href="#Y" x="870"/><use href="#Y" x="900"/><use href="#Y" x="930"/>
<text class="mn" y="-7.5"><tspan x="1">77</tspan><tspan x="241">78</tspan><tspan x="481">79</tspan><tspan x="721">80</tspan></text>
<text class="n a" y="76"><tspan x="239">200</tspan><tspan x="479">200</tspan><tspan x="719">200</tspan><tspan x="959">200</tspan></text>
<text class="n b" y="89"><tspan x="239">114425</tspan><tspan x="479">115625</tspan><tspan x="719">116825</tspan><tspan x="959">118025</tspan></text>
<text class="n c" y="102"><tspan x="239">50.00%</tspan><tspan x="479">50.00%</tspan><tspan x="719">50.00%</tspan><tspan x="959">50.00%</tspan></text>
</g>

<g id="row21" transform="translate(31.3 3025.7)">
<use href="#st4"/><use href="#P21a"/><use href="#P21b"/>
<text class="mn" y="-7.5"><tspan x="1">81</tspan><tspan x="241">82</tspan><tspan x="481">83</tspan><tspan x="721">84</tspan></text>
<text class="n a" y="76"><tspan x="239">275</tspan><tspan x="479">300</tspan><tspan x="719">250</tspan><tspan x="959">325</tspan></text>
<text class="n b" y="89"><tspan x="239">119675</tspan><tspan x="479">121475</tspan><tspan x="719">122975</tspan><tspan x="959">124925</tspan></text>
<text class="n c" y="102"><tspan x="239">50.00%</tspan><tspan x="479">50.00%</tspan><tspan x="719">50.00%</tspan><tspan x="959">50.00%</tspan></text>
</g>

<g id="row22" transform="translate(31.3 3166.7)">
<use href="#st4"/>
<use href="#sG" x="0"/><use href="#sG" x="15"/><use href="#sG" x="90"/><use href="#sG" x="105"/><use href="#sG" x="180"/><use href="#sG" x="195"/>
<use href="#sB" x="30"/><use href="#sB" x="60"/><use href="#sB" x="120"/><use href="#sB" x="150"/><use href="#sB" x="210"/>
<use href="#G" x="240"/>
<use href="#B" x="270"/><use href="#B" x="300"/><use href="#B" x="330"/><use href="#B" x="360"/><use href="#B" x="375"/><use href="#B" x="390"/><use href="#B" x="405"/><use href="#B" x="420"/><use href="#B" x="435"/><use href="#B" x="450"/><use href="#B" x="465"/>
<use href="#P21b"/>
<rect class="gr" width="210" height="60.4"/>
<rect class="bl" x="690" width="270" height="60.4"/>
<text class="mn" y="-7.5"><tspan x="1">85</tspan><tspan x="241">86</tspan><tspan x="481">87</tspan><tspan x="721">88</tspan></text>
<text class="n a" y="76"><tspan x="239">275</tspan><tspan x="479">300</tspan><tspan x="719">250</tspan><tspan x="959">325</tspan></text>
<text class="n b" y="89"><tspan x="239">126575</tspan><tspan x="479">128375</tspan><tspan x="719">130025</tspan><tspan x="959">133925</tspan></text>
<text class="n c" y="102"><tspan x="239">75.00%</tspan><tspan x="479">75.00%</tspan><tspan x="719">73.42%</tspan><tspan x="959">60.92%</tspan></text>
</g>

<g id="row23" transform="translate(31.3 3307.7)">
<use href="#st4"/><use href="#P21a"/><use href="#P21b"/>
<rect class="bl" width="960" height="60.4"/>
<text class="mn" y="-7.5"><tspan x="1">89</tspan><tspan x="241">90</tspan><tspan x="481">91</tspan><tspan x="721">92</tspan></text>
<text class="n a" y="76"><tspan x="239">275</tspan><tspan x="479">300</tspan><tspan x="719">250</tspan><tspan x="959">325</tspan></text>
<text class="n b" y="89"><tspan x="239">137225</tspan><tspan x="479">140825</tspan><tspan x="719">143975</tspan><tspan x="959">147725</tspan></text>
<text class="n c" y="102"><tspan x="239">48.42%</tspan><tspan x="479">35.92%</tspan><tspan x="719">23.42%</tspan><tspan x="959">10.92%</tspan></text>
</g>

<g id="row24" transform="translate(31.3 3448.7)">
<rect class="ye" x="480" y="-10" width="225" height="81"/>
<use href="#st4"/><use href="#P21a"/>
<use href="#sR" x="480"/><use href="#sR" x="495"/><use href="#sR" x="510"/><use href="#sR" x="525"/><use href="#sR" x="540"/><use href="#sR" x="555"/><use href="#sR" x="570"/><use href="#sR" x="585"/>
<use href="#sY" x="600"/><use href="#sY" x="615"/><use href="#sY" x="630"/><use href="#sY" x="645"/><use href="#sY" x="660"/><use href="#sY" x="675"/><use href="#sY" x="690"/><use href="#sY" x="705"/>
<use href="#B" x="720"/><use href="#B" x="735"/><use href="#B" x="750"/><use href="#B" x="765"/><use href="#B" x="780"/><use href="#B" x="795"/><use href="#B" x="810"/><use href="#B" x="825"/>
<use href="#O" x="840"/><use href="#O" x="855"/><use href="#O" x="870"/><use href="#O" x="885"/><use href="#O" x="900"/><use href="#O" x="915"/><use href="#O" x="930"/><use href="#O" x="945"/>
<rect class="gr" x="480" width="225" height="60.4"/>
<rect class="bl" width="690" height="60.4"/>
<rect class="bl" x="720" width="240" height="60.4"/>
<rect class="pk" x="690" width="1.5" height="60.4"/>
<text class="mn" y="-7.5"><tspan x="1">93</tspan><tspan x="241">94</tspan><tspan x="481">95</tspan><tspan x="721">96</tspan></text>
<text class="n a" y="76"><tspan x="239">275</tspan><tspan x="479">300</tspan><tspan x="719">400</tspan><tspan x="959">400</tspan></text>
<text class="n b" y="89"><tspan x="239">151025</tspan><tspan x="479">154625</tspan><tspan x="719">159275</tspan><tspan x="959">164075</tspan></text>
<text class="n c" y="102"><tspan x="239">0.00%</tspan><tspan x="479">0.00%</tspan><tspan x="719">24.98%</tspan><tspan x="959">12.48%</tspan></text>
</g>

<g id="row25" transform="translate(31.3 3589.7)">
<use href="#st4"/>
<use href="#G" x="0"/><use href="#G" x="30"/><use href="#G" x="60"/><use href="#G" x="90"/>
<use href="#R" x="120"/><use href="#R" x="150"/><use href="#R" x="180"/><use href="#R" x="210"/>
<use href="#Y" x="240"/><use href="#Y" x="270"/><use href="#Y" x="300"/><use href="#Y" x="330"/>
<use href="#B" x="360"/><use href="#B" x="390"/><use href="#B" x="420"/><use href="#B" x="450"/>
<use href="#Y" x="510"/><use href="#Y" x="540"/><use href="#Y" x="570"/><use href="#Y" x="600"/><use href="#Y" x="630"/><use href="#Y" x="660"/>
<use href="#G" x="690"/><use href="#G" x="720"/><use href="#G" x="750"/><use href="#G" x="780"/><use href="#G" x="810"/><use href="#G" x="840"/><use href="#G" x="870"/><use href="#G" x="900"/><use href="#G" x="930"/>
<rect class="bl" width="720" height="60.4"/>
<rect class="pk" x="719.5" width="1.2" height="60.4"/>
<text class="mn" y="-7.5"><tspan x="1">97</tspan><tspan x="241">98</tspan><tspan x="481">99</tspan><tspan x="721">100</tspan></text>
<text class="n a" y="76"><tspan x="239">200</tspan><tspan x="479">200</tspan><tspan x="719">175</tspan><tspan x="959">200</tspan></text>
<text class="n b" y="89"><tspan x="239">166475</tspan><tspan x="479">168875</tspan><tspan x="719">170975</tspan><tspan x="959">172325</tspan></text>
<text class="n c" y="102"><tspan x="239">0.00%</tspan><tspan x="479">0.00%</tspan><tspan x="719">0.00%</tspan><tspan x="959">0.00%</tspan></text>
</g>

<g id="row26" transform="translate(31.3 3730.7)">
<use href="#st4"/>
<use href="#Y" x="30"/><use href="#Y" x="60"/><use href="#Y" x="90"/><use href="#Y" x="120"/><use href="#Y" x="150"/><use href="#Y" x="180"/>
<use href="#O" x="210"/><use href="#O" x="240"/><use href="#O" x="270"/><use href="#O" x="300"/><use href="#O" x="330"/><use href="#O" x="360"/><use href="#O" x="390"/><use href="#O" x="420"/><use href="#O" x="450"/>
<use href="#sG" x="510"/><use href="#sG" x="540"/><use href="#sG" x="570"/><use href="#sG" x="600"/><use href="#sG" x="630"/><use href="#sG" x="660"/><use href="#sB" x="690"/>
<use href="#B" x="720"/><use href="#B" x="750"/><use href="#B" x="780"/><use href="#B" x="810"/><use href="#B" x="840"/><use href="#B" x="870"/><use href="#B" x="900"/><use href="#B" x="930"/>
<rect class="gr" x="510" width="180" height="60.4"/>
<text class="mn" y="-7.5"><tspan x="1">101</tspan><tspan x="241">102</tspan><tspan x="481">103</tspan><tspan x="721">104</tspan></text>
<text class="n a" y="76"><tspan x="239">175</tspan><tspan x="479">200</tspan><tspan x="719">175</tspan><tspan x="959">200</tspan></text>
<text class="n b" y="89"><tspan x="239">173375</tspan><tspan x="479">174575</tspan><tspan x="719">175625</tspan><tspan x="959">176825</tspan></text>
<text class="n c" y="102"><tspan x="239">0.00%</tspan><tspan x="479">0.00%</tspan><tspan x="719">25.00%</tspan><tspan x="959">25.00%</tspan></text>
</g>

<g id="row27" transform="translate(31.3 3871.7)">
<use href="#st4"/>
<use href="#Y" x="0"/><use href="#Y" x="30"/><use href="#Y" x="60"/><use href="#Y" x="90"/><use href="#Y" x="120"/><use href="#Y" x="150"/><use href="#Y" x="180"/><use href="#Y" x="210"/><use href="#Y" x="240"/><use href="#Y" x="270"/><use href="#Y" x="300"/><use href="#Y" x="330"/><use href="#Y" x="360"/>
<use href="#O" x="390"/><use href="#O" x="420"/><use href="#O" x="450"/>
<use href="#B" x="480"/><use href="#B" x="510"/><use href="#B" x="540"/><use href="#B" x="570"/><use href="#B" x="600"/><use href="#B" x="630"/><use href="#B" x="660"/>
<use href="#G" x="690"/><use href="#G" x="720"/><use href="#G" x="750"/><use href="#G" x="780"/><use href="#G" x="810"/><use href="#G" x="840"/><use href="#G" x="870"/><use href="#G" x="900"/><use href="#G" x="930"/>
<text class="mn" y="-7.5"><tspan x="1">105</tspan><tspan x="241">106</tspan><tspan x="481">107</tspan><tspan x="721">108</tspan></text>
<text class="n a" y="76"><tspan x="239">200</tspan><tspan x="479">200</tspan><tspan x="719">200</tspan><tspan x="959">200</tspan></text>
<text class="n b" y="89"><tspan x="239">178025</tspan><tspan x="479">179225</tspan><tspan x="719">180425</tspan><tspan x="959">181625</tspan></text>
<text class="n c" y="102"><tspan x="239">25.00%</tspan><tspan x="479">25.00%</tspan><tspan x="719">25.00%</tspan><tspan x="959">25.00%</tspan></text>
</g>

<g id="row28" transform="translate(31.3 4012.7)">
<rect class="ye" x="720" y="-10" width="210" height="81"/>
<use href="#st4"/>
<use href="#Y" x="0"/><use href="#Y" x="30"/><use href="#Y" x="60"/><use href="#Y" x="90"/><use href="#Y" x="120"/><use href="#Y" x="150"/><use href="#Y" x="180"/>
<use href="#O" x="210"/><use href="#O" x="240"/><use href="#O" x="270"/><use href="#O" x="300"/><use href="#O" x="330"/><use href="#O" x="360"/><use href="#O" x="390"/><use href="#O" x="420"/><use href="#O" x="450"/>
<use href="#G" x="480"/><use href="#G" x="510"/><use href="#G" x="540"/><use href="#G" x="570"/><use href="#G" x="600"/><use href="#G" x="630"/><use href="#G" x="660"/>
<use href="#B" x="690"/>
<use href="#sB" x="720"/><use href="#sB" x="750"/><use href="#sB" x="780"/><use href="#sB" x="810"/><use href="#sB" x="840"/><use href="#sB" x="870"/><use href="#sB" x="900"/><use href="#sB" x="930"/>
<rect class="gr" x="720" width="210" height="60.4"/>
<text class="mn" y="-7.5"><tspan x="1">109</tspan><tspan x="241">110</tspan><tspan x="481">111</tspan><tspan x="721">112</tspan></text>
<text class="n a" y="76"><tspan x="239">200</tspan><tspan x="479">200</tspan><tspan x="719">200</tspan><tspan x="959">200</tspan></text>
<text class="n b" y="89"><tspan x="239">182825</tspan><tspan x="479">184025</tspan><tspan x="719">185225</tspan><tspan x="959">186425</tspan></text>
<text class="n c" y="102"><tspan x="239">25.00%</tspan><tspan x="479">25.00%</tspan><tspan x="719">25.00%</tspan><tspan x="959">50.00%</tspan></text>
</g>

<g id="row29" transform="translate(31.3 4153.7)">
<rect width="780" height="60.4" fill="#fff"/>
<path d="M30 0V60.4M90 0V60.4M150 0V60.4M210 0V60.4M270 0V60.4M330 0V60.4M390 0V60.4M450 0V60.4M510 0V60.4M570 0V60.4M630 0V60.4M690 0V60.4M750 0V60.4" stroke="#ddd" fill="none"/>
<path d="M60 0V60.4M120 0V60.4M180 0V60.4M300 0V60.4M360 0V60.4M420 0V60.4M480 0V60.4M600 0V60.4M660 0V60.4M720 0V60.4M0 15.1H780M0 30.2H780M0 45.3H780" stroke="#999" fill="none"/>
<path d="M240 0V60.4M540 0V60.4" stroke="#000" fill="none"/>
<rect width="780" height="60.4" fill="none" stroke="#000" stroke-width="1.3"/>
<text class="ts" x="240.5" y="26.6">5</text><text class="ts" x="240.5" y="56.6">4</text>
<text class="ts" x="542.5" y="26.6">4</text><text class="ts" x="542.5" y="56.6">4</text>
<text class="tp" x="240" y="-20.5"><tspan font-size="14">♩</tspan>=140</text>
<text class="tp" x="540" y="-20.5"><tspan font-size="14">♩</tspan>=140</text>
<use href="#Y" x="0"/><use href="#Y" x="30"/><use href="#Y" x="60"/><use href="#Y" x="90"/><use href="#Y" x="120"/><use href="#Y" x="150"/><use href="#Y" x="180"/><use href="#Y" x="210"/><use href="#Y" x="240"/><use href="#Y" x="270"/><use href="#Y" x="300"/><use href="#Y" x="330"/><use href="#Y" x="360"/>
<use href="#O" x="390"/><use href="#O" x="420"/><use href="#O" x="450"/>
<use href="#G" x="540"/><use href="#G" x="600"/><use href="#G" x="630"/><use href="#G" x="690"/><use href="#G" x="750"/><use href="#G" x="765"/>
<rect class="pk" x="747.5" width="3" height="60.4"/>
<rect class="bl" x="750.5" width="29.5" height="60.4"/>
<text class="mn" y="-7.5"><tspan x="1">113</tspan><tspan x="241">114</tspan><tspan x="546">115</tspan></text>
<text class="n a" y="76"><tspan x="239">200</tspan><tspan x="539">200</tspan><tspan x="779">150</tspan></text>
<text class="n b" y="89"><tspan x="239">187625</tspan><tspan x="539">188825</tspan><tspan x="779">190025</tspan></text>
<text class="n c" y="102"><tspan x="239">50.00%</tspan><tspan x="539">50.00%</tspan><tspan x="779">48.67%</tspan></text>
</g>

<g id="row30" transform="translate(31.3 4294.7)">
<use href="#st4"/><use href="#P30a"/><use href="#P30b"/><use href="#P30c"/><use href="#P30d"/>
<rect class="bl" width="960" height="60.4"/>
<text class="mn" y="-7.5"><tspan x="1">116</tspan><tspan x="241">117</tspan><tspan x="481">118</tspan><tspan x="721">119</tspan></text>
<text class="n a" y="76"><tspan x="239">125</tspan><tspan x="479">200</tspan><tspan x="719">175</tspan><tspan x="959">150</tspan></text>
<text class="n b" y="89"><tspan x="239">191525</tspan><tspan x="479">193925</tspan><tspan x="719">196025</tspan><tspan x="959">197825</tspan></text>
<text class="n c" y="102"><tspan x="239">36.17%</tspan><tspan x="479">23.67%</tspan><tspan x="719">11.17%</tspan><tspan x="959">0.00%</tspan></text>
</g>

<g id="row31" transform="translate(31.3 4435.7)">
<use href="#st4"/><use href="#P30a"/>
<use href="#sG" x="240"/><use href="#sG" x="300"/><use href="#sG" x="315"/><use href="#sG" x="330"/><use href="#sG" x="390"/><use href="#sG" x="405"/><use href="#sG" x="420"/><use href="#sG" x="450"/>
<use href="#P30c"/><use href="#P30d"/>
<rect class="gr" x="240" width="210" height="60.4"/>
<rect class="bl" width="934" height="60.4"/>
<rect class="pk" x="934" width="10" height="60.4"/>
<text class="mn" y="-7.5"><tspan x="1">120</tspan><tspan x="241">121</tspan><tspan x="481">122</tspan><tspan x="721">123</tspan></text>
<text class="n a" y="76"><tspan x="239">125</tspan><tspan x="479">200</tspan><tspan x="719">175</tspan><tspan x="959">150</tspan></text>
<text class="n b" y="89"><tspan x="239">199325</tspan><tspan x="479">201725</tspan><tspan x="719">203825</tspan><tspan x="959">205625</tspan></text>
<text class="n c" y="102"><tspan x="239">0.00%</tspan><tspan x="479">23.44%</tspan><tspan x="719">10.94%</tspan><tspan x="959">0.00%</tspan></text>
</g>

<g id="row32" transform="translate(31.3 4576.7)">
<use href="#st4"/><use href="#P30a"/><use href="#P30b"/><use href="#P30c"/><use href="#P30d"/>
<text class="mn" y="-7.5"><tspan x="1">124</tspan><tspan x="241">125</tspan><tspan x="481">126</tspan><tspan x="721">127</tspan></text>
<text class="n a" y="76"><tspan x="239">125</tspan><tspan x="479">200</tspan><tspan x="719">175</tspan><tspan x="959">150</tspan></text>
<text class="n b" y="89"><tspan x="239">206375</tspan><tspan x="479">207575</tspan><tspan x="719">208625</tspan><tspan x="959">209525</tspan></text>
<text class="n c" y="102"><tspan x="239">0.00%</tspan><tspan x="479">0.00%</tspan><tspan x="719">0.00%</tspan><tspan x="959">0.00%</tspan></text>
</g>

<g id="row33" transform="translate(31.3 4717.7)">
<use href="#st4"/><use href="#P30a"/><use href="#P30b"/><use href="#P30c"/>
<text class="mn" y="-7.5"><tspan x="1">128</tspan><tspan x="241">129</tspan><tspan x="481">130</tspan><tspan x="721">131</tspan></text>
<text class="n a" y="76"><tspan x="239">125</tspan><tspan x="479">200</tspan><tspan x="719">175</tspan><tspan x="959">25</tspan></text>
<text class="n b" y="89"><tspan x="239">210275</tspan><tspan x="479">211475</tspan><tspan x="719">212525</tspan><tspan x="959">212675</tspan></text>
<text class="n c" y="102"><tspan x="239">0.00%</tspan><tspan x="479">0.00%</tspan><tspan x="719">0.00%</tspan><tspan x="959">0.00%</tspan></text>
</g>
</g>
</svg>
